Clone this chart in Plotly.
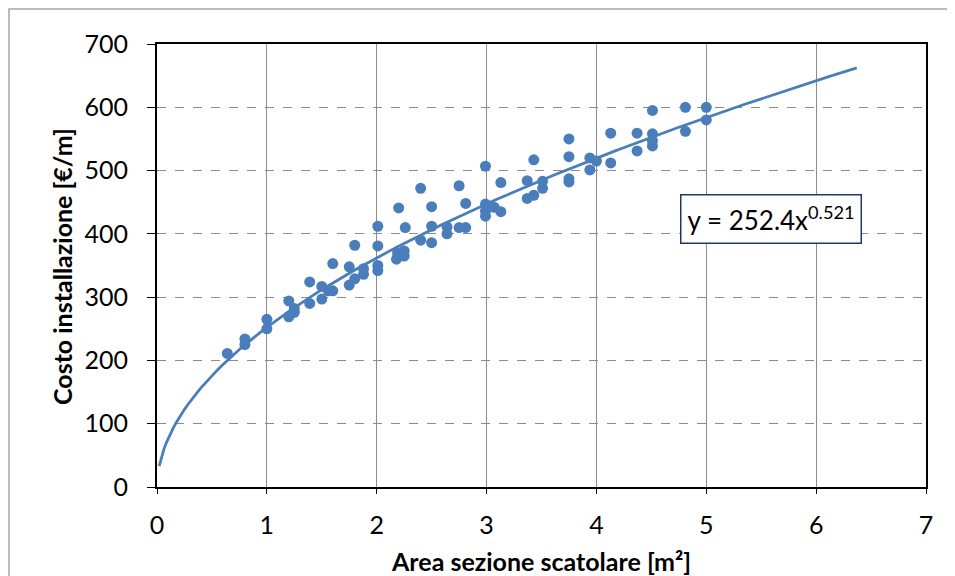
import numpy as np
import plotly.graph_objects as go

# Data
area = [0.64, 0.80, 0.80, 1.00, 1.00, 1.20, 1.25, 1.25, 1.20, 1.39, 1.39, 1.50, 1.50, 1.56, 1.60,
        1.60, 1.75, 1.75, 1.80, 1.80, 1.88, 1.88, 2.01, 2.01, 2.01, 2.01, 2.19, 2.18, 2.25, 2.25,
        2.20, 2.26, 2.40, 2.40, 2.50, 2.50, 2.50, 2.64, 2.64, 2.75, 2.75, 2.81, 2.81, 2.99, 2.99,
        2.99, 2.99, 3.07, 3.13, 3.13, 3.37, 3.37, 3.43, 3.43, 3.51, 3.51, 3.75, 3.75, 3.75, 3.75,
        3.94, 3.94, 4.00, 4.13, 4.13, 4.37, 4.37, 4.51, 4.51, 4.51, 4.51, 4.81, 4.81, 5.00, 5.00]
costo = [211, 234, 225, 265, 250, 294, 282, 276, 269, 324, 290, 317, 297, 310, 310,
         353, 348, 319, 382, 329, 345, 336, 381, 350, 342, 412, 370, 360, 373, 365,
         441, 410, 472, 390, 443, 412, 386, 411, 400, 476, 410, 448, 410, 507, 447,
         436, 428, 442, 481, 435, 484, 456, 517, 461, 483, 472, 522, 487, 482, 550,
         520, 501, 515, 559, 512, 559, 531, 595, 558, 547, 539, 600, 562, 600, 580]

# Trendline coefficients (from the equation label) and its drawn range
coef_a = 252.4
coef_b = 0.521
trend_x_min = 0.02
trend_x_max = 6.37

x_ticks = [0, 1, 2, 3, 4, 5, 6, 7]
y_ticks = [0, 100, 200, 300, 400, 500, 600, 700]

x_title = "Area sezione scatolare [m²]"
y_title = "Costo installazione [€/m]"

blue = "#4a7ebb"
font_family = "Lato, 'Open Sans', sans-serif"

tx = np.linspace(trend_x_min, trend_x_max, 300)
ty = coef_a * tx ** coef_b

# page body has an 8px margin: figure is placed at (8, 8) in the window
OFF = 8
W, H = 955 - OFF, 576 - OFF
L, T = 157 - OFF, 44 - OFF
R, B = W - (926 - OFF), H - (487 - OFF)
pw, ph = W - L - R, H - T - B

def px_x(p):
    return (p - OFF - L) / pw

def px_y(p):
    return (H - B - (p - OFF)) / ph

fig = go.Figure()
fig.add_trace(go.Scatter(x=area, y=costo, mode="markers",
                         marker=dict(color=blue, size=11, line=dict(width=0)),
                         showlegend=False))
fig.add_trace(go.Scatter(x=tx, y=ty, mode="lines",
                         line=dict(color=blue, width=2.8), showlegend=False))

fig.update_layout(
    width=W, height=H,
    margin=dict(l=L, r=R, t=T, b=B),
    paper_bgcolor="white", plot_bgcolor="white",
    font=dict(family=font_family, size=25, color="black"),
    xaxis=dict(range=[0, 7], tickvals=x_ticks, ticktext=[str(v) for v in x_ticks],
               showgrid=True, gridcolor="#8c8c8c", gridwidth=1.2,
               showline=True, linecolor="black", linewidth=2, mirror=True,
               ticks="outside", ticklen=5, tickcolor="black",
               ticklabelstandoff=10, automargin=False,
               zeroline=False),
    yaxis=dict(range=[0, 700], tickvals=y_ticks, ticktext=[str(v) for v in y_ticks],
               showgrid=True, gridcolor="#8c8c8c", gridwidth=1, griddash="dash",
               showline=True, linecolor="black", linewidth=2, mirror=True,
               ticks="outside", ticklen=8, tickcolor="black",
               ticklabelstandoff=14, automargin=False,
               zeroline=False),
    annotations=[
        dict(x=5.59, y=423, xref="x", yref="y",
             text=f"y = {coef_a}x<sup>{coef_b}</sup>",
             showarrow=False, font=dict(size=26, color="black"),
             bgcolor="white", bordercolor="#1f3864", borderwidth=1.5,
             borderpad=6),
        dict(x=px_x(541), y=px_y(561), xref="paper", yref="paper",
             text=f"<b>{x_title}</b>", showarrow=False,
             font=dict(size=25, color="black"),
             xanchor="center", yanchor="middle"),
        dict(x=px_x(62), y=px_y(267), xref="paper", yref="paper",
             text=f"<b>{y_title}</b>", showarrow=False, textangle=-90,
             font=dict(size=25, color="black"),
             xanchor="center", yanchor="middle"),
    ],
    shapes=[dict(type="rect", xref="paper", yref="paper",
                 x0=px_x(9), x1=px_x(975),
                 y0=px_y(600), y1=px_y(9),
                 line=dict(color="#a6a6a6", width=1.5), fillcolor="rgba(0,0,0,0)",
                 layer="below")],
)

fig.write_html("out.html")
